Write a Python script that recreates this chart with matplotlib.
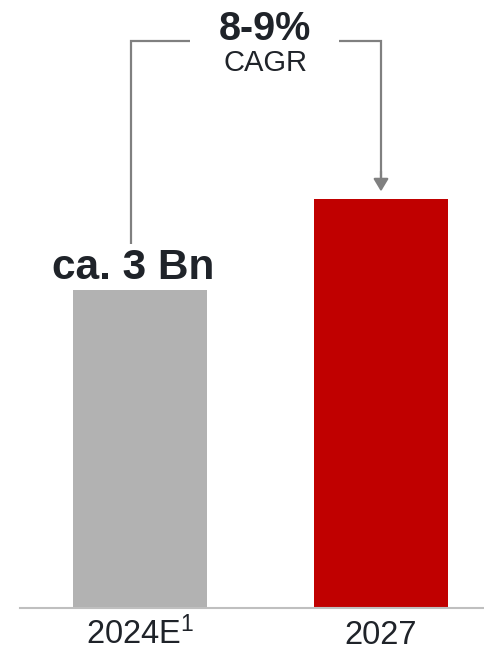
import matplotlib
matplotlib.use("Agg")
import matplotlib.pyplot as plt

# Market size (Bn)
categories = ["2024E$^{1}$", "2027"]
values = [3.0, 3.86]
bar_colors = ["#B2B2B2", "#C00000"]
value_label = "ca. 3 Bn"
cagr_label = "8-9%"
cagr_sub = "CAGR"

plt.rcParams["font.family"] = ["Liberation Sans", "DejaVu Sans"]
plt.rcParams["mathtext.fontset"] = "custom"
plt.rcParams["mathtext.rm"] = "Liberation Sans"
plt.rcParams["mathtext.default"] = "rm"
text_color = "#1F2329"
line_color = "#808080"

W, H, DPI = 485, 650, 100
fig = plt.figure(figsize=(W / DPI, H / DPI), dpi=DPI)
fig.patch.set_facecolor("white")

# axes: baseline 608 px from top, left edge at 20 px
base_px, left_px = 608, 20
ax = fig.add_axes([left_px / W, (H - base_px) / H, 1 - left_px / W, base_px / H])

px_per_unit_y = 106.0
px_per_unit_x = 241.0
x = list(range(len(categories)))
ax.set_ylim(0, base_px / px_per_unit_y)
ax.set_xlim(-(140 - left_px) / px_per_unit_x, 1 + (W - 381) / px_per_unit_x)

ax.bar(x, values, width=134 / px_per_unit_x, color=bar_colors, zorder=2)

# value label above first bar
ax.text(x[0] - 0.03, values[0] + 0.10, value_label, ha="center", va="baseline",
        fontsize=30.5, fontweight="bold", color=text_color)

# CAGR bracket
y_top = 5.35
x_left = x[0] - 0.037
ax.plot([x_left, x_left, 0.207], [3.43, y_top, y_top], color=line_color,
        lw=1.6, solid_capstyle="butt", solid_joinstyle="miter")
ax.plot([0.826, x[1], x[1]], [y_top, y_top, 3.98], color=line_color,
        lw=1.6, solid_capstyle="butt", solid_joinstyle="miter")
ax.annotate("", xy=(x[1], values[1] + 0.07), xytext=(x[1], 4.12),
            arrowprops=dict(arrowstyle="-|>,head_length=0.75,head_width=0.45",
                            color=line_color, lw=1.6, shrinkA=0, shrinkB=0))

ax.text(0.519, 5.46, cagr_label, ha="center", va="center",
        fontsize=28.5, fontweight="bold", color=text_color)
ax.text(0.519, 5.14, cagr_sub, ha="center", va="center",
        fontsize=21, color=text_color)

ax.set_xticks(x)
ax.set_xticklabels(categories, fontsize=23.5, color=text_color, va="baseline")
ax.tick_params(axis="x", length=0, pad=26)
ax.set_yticks([])
for s in ["top", "left", "right"]:
    ax.spines[s].set_visible(False)
ax.spines["bottom"].set_color("#BFBFBF")
ax.spines["bottom"].set_linewidth(1.5)
ax.set_facecolor("none")

fig.savefig("out.png", dpi=DPI, facecolor="white")
